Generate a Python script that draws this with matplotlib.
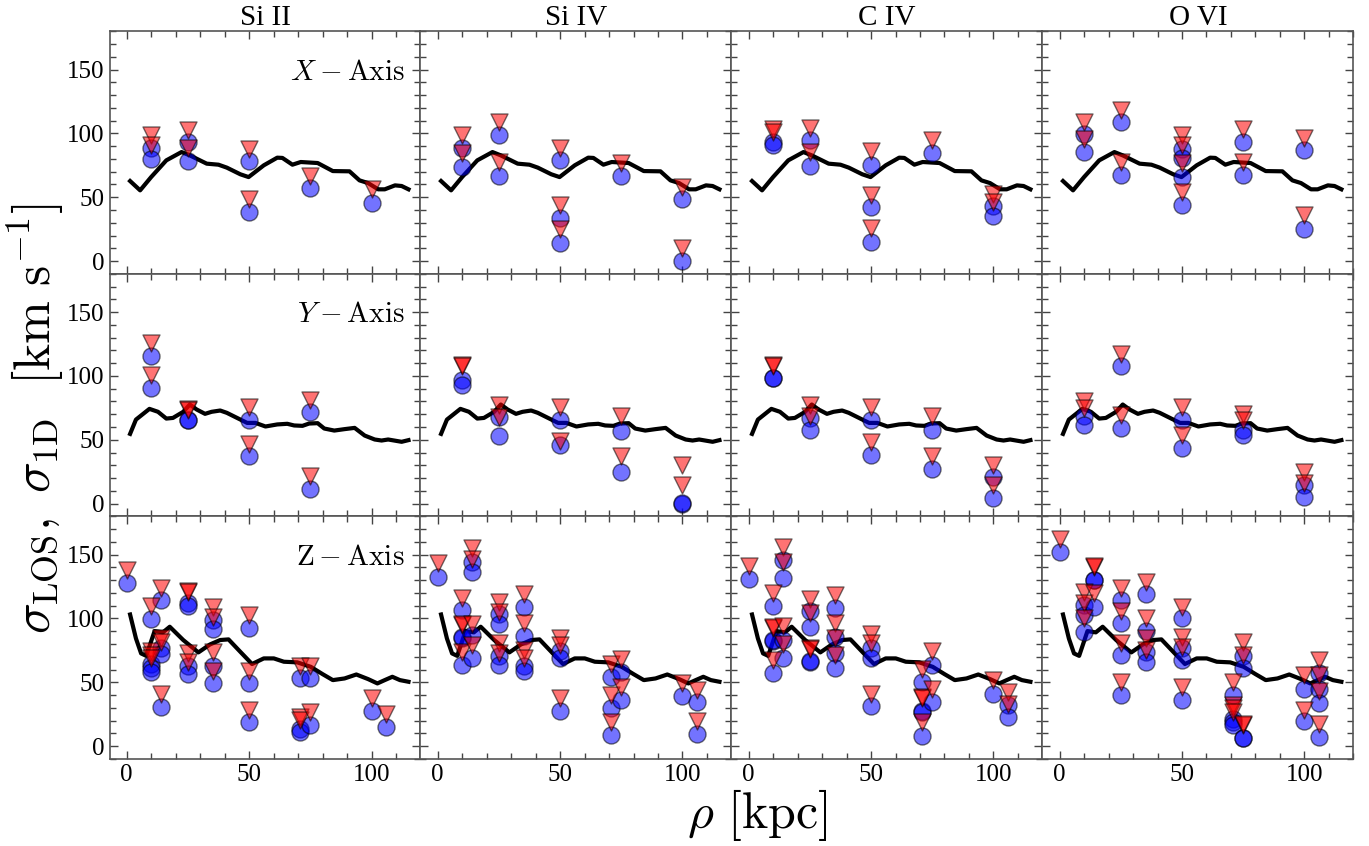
import matplotlib
matplotlib.use('Agg')
import matplotlib.pyplot as plt
from matplotlib.ticker import MultipleLocator

plt.rcParams['font.family'] = 'serif'
plt.rcParams['font.serif'] = ['Liberation Serif', 'DejaVu Serif']
plt.rcParams['mathtext.fontset'] = 'cm'

# ions (columns) and sight-line axes (rows)
ions = ['Si II', 'Si IV', 'C IV', 'O VI']
axis_labels = [r'$X - \mathrm{Axis}$', r'$Y - \mathrm{Axis}$', r'$\mathrm{Z - Axis}$']

# 1D velocity dispersion profile (black line), one per projection axis
line_x_rho = [1.4, 5.5, 10.0, 16.2, 22.4, 25.8, 32.7, 37.5, 40.9, 46.4, 49.8, 56.0, 61.5, 63.6,
              67.7, 71.1, 78.0, 84.2, 91.0, 95.1, 98.6, 102.7, 105.4, 109.6, 112.3, 115.1]
line_x_sig = [62.7, 55.4, 65.8, 78.9, 85.4, 82.8, 76.3, 75.5, 73.2, 68.0, 65.8, 75.0, 81.0, 80.8,
              75.5, 77.6, 76.8, 70.5, 70.3, 63.2, 61.1, 56.2, 56.2, 59.3, 58.8, 56.2]

line_y_rho = [1.4, 3.8, 9.3, 12.8, 16.2, 18.9, 23.1, 25.8, 28.6, 32.0, 34.7, 38.2, 40.9, 45.1,
              49.2, 52.6, 56.7, 61.5, 65.6, 68.4, 71.8, 74.5, 78.0, 80.7, 84.8, 88.9, 93.1,
              97.2, 101.3, 104.1, 106.8, 112.3, 115.1]
line_y_sig = [54.6, 65.8, 74.2, 71.9, 66.6, 67.1, 71.9, 77.6, 73.7, 70.3, 71.9, 72.9, 71.1, 67.1,
              63.2, 63.2, 60.4, 62.0, 62.5, 61.2, 60.9, 62.7, 63.0, 58.8, 57.2, 58.3, 59.3,
              53.3, 50.2, 49.4, 50.2, 48.4, 49.7]

line_z_rho = [1.4, 3.8, 5.9, 8.0, 11.4, 14.8, 17.6, 23.1, 29.3, 34.0, 38.2, 41.6, 46.4, 51.2,
              56.0, 60.1, 64.2, 69.7, 75.2, 80.0, 84.2, 89.0, 93.8, 98.6, 102.4, 105.4,
              108.5, 111.6, 115.1]
line_z_sig = [103.1, 84.3, 72.6, 70.7, 90.1, 89.1, 93.5, 83.1, 73.4, 79.6, 83.1, 83.6, 73.9, 64.3,
              68.7, 68.7, 66.1, 65.6, 62.1, 56.4, 51.7, 53.0, 56.1, 52.5, 49.1, 51.7,
              54.3, 51.7, 50.4]

# sightline measurements: rho [kpc], sigma_LOS (circles), sigma_1D (triangles)
siII_x_rho = [10, 10, 25, 25, 50, 50, 75, 100]
siII_x_los = [88.6, 80.2, 93.3, 78.4, 78.1, 38.4, 57.2, 45.7]
siII_x_1d = [98.5, 90.7, 102.9, 88.5, 87.5, 48.9, 66.6, 56.2]

siIV_x_rho = [10, 10, 25, 25, 50, 50, 50, 75, 100, 100]
siIV_x_los = [88.8, 73.7, 98.5, 66.6, 78.9, 34.0, 14.4, 66.6, 48.9, 0.0]
siIV_x_1d = [98.5, 85.0, 108.9, 77.6, 88.6, 44.2, 25.3, 77.1, 58.0, 10.2]

cIV_x_rho = [10, 10, 25, 25, 50, 50, 50, 75, 100, 100]
cIV_x_los = [93.3, 91.2, 95.1, 74.5, 75.5, 42.1, 14.9, 84.4, 43.4, 35.0]
cIV_x_1d = [103.7, 101.1, 104.2, 85.4, 86.0, 52.0, 25.9, 94.6, 52.8, 46.2]

oVI_x_rho = [10, 10, 25, 25, 50, 50, 50, 50, 75, 75, 100, 100]
oVI_x_los = [99.3, 85.4, 108.9, 67.7, 88.0, 81.0, 66.0, 44.2, 93.3, 67.7, 86.7, 25.4]
oVI_x_1d = [108.9, 95.9, 118.1, 77.6, 98.5, 90.7, 77.0, 54.1, 103.2, 77.6, 96.4, 35.8]

siII_y_rho = [10, 10, 25, 25, 50, 50, 75, 75]
siII_y_los = [115.5, 90.7, 65.1, 65.5, 65.8, 37.1, 71.6, 11.5]
siII_y_1d = [125.7, 100.6, 74.0, 73.0, 75.5, 47.0, 81.5, 21.4]

siIV_y_rho = [10, 10, 25, 25, 50, 50, 75, 75, 100, 100]
siIV_y_los = [97.2, 93.0, 67.7, 52.8, 65.1, 45.7, 57.2, 24.6, 0.0, 0.5]
siIV_y_1d = [108.4, 108.0, 77.6, 68.0, 75.5, 49.0, 68.5, 37.1, 30.6, 14.4]

cIV_y_rho = [10, 10, 25, 25, 50, 50, 75, 75, 100, 100]
cIV_y_los = [98.5, 98.0, 67.1, 57.5, 65.1, 38.4, 58.0, 27.4, 20.6, 4.5]
cIV_y_1d = [108.4, 108.0, 77.6, 68.5, 75.5, 48.3, 68.5, 37.1, 30.6, 14.9]

oVI_y_rho = [10, 10, 25, 25, 50, 50, 75, 75, 100, 100]
oVI_y_los = [68.5, 61.9, 107.6, 59.3, 65.1, 43.6, 58.0, 54.1, 14.4, 5.0]
oVI_y_1d = [80.7, 75.0, 117.3, 69.2, 75.5, 54.1, 69.8, 65.8, 24.8, 16.2]

siII_z_rho = [0, 10, 10, 10, 10, 14.1, 14.1, 14.1, 14.1, 25, 25, 25, 25, 35.4, 35.4, 35.4, 35.4,
              50, 50, 50, 70.7, 70.7, 70.7, 75, 75, 100, 106.1]
siII_z_los = [127.4, 99.5, 64.7, 60.8, 58.2, 114.4, 76.5, 71.8, 30.8, 111.8, 109.9, 62.9, 56.1,
              98.7, 91.6, 62.9, 49.1, 92.7, 49.1, 18.5, 53.5, 13.3, 10.7, 53.0, 16.4, 27.4, 15.1]
siII_z_1d = [137.9, 109.7, 74.4, 71.3, 68.7, 124.0, 84.3, 81.7, 41.2, 121.4, 120.4, 72.6, 66.0,
             109.1, 101.3, 73.9, 58.7, 102.6, 58.7, 28.2, 62.9, 22.9, 20.3, 62.9, 26.9, 37.8, 24.8]

siIV_z_rho = [0, 10, 10, 10, 10, 14.1, 14.1, 14.1, 14.1, 25, 25, 25, 25, 35.4, 35.4, 35.4, 35.4,
              50, 50, 50, 70.7, 70.7, 70.7, 75, 75, 100, 106.1, 106.1]
siIV_z_los = [132.7, 106.5, 84.9, 85.5, 63.4, 144.4, 136.6, 86.9, 69.2, 103.1, 95.3, 70.7, 63.4,
              108.6, 86.4, 62.9, 58.7, 74.4, 69.2, 27.4, 54.3, 29.5, 8.6, 58.2, 36.0, 39.4, 34.2, 9.1]
siIV_z_1d = [143.1, 116.2, 94.8, 95.5, 73.9, 154.9, 146.5, 95.3, 79.1, 113.1, 104.7, 80.4, 72.6,
             118.8, 96.1, 75.2, 68.7, 84.9, 79.1, 37.3, 64.0, 39.9, 19.0, 68.1, 46.5, 49.1, 43.8, 19.5]

cIV_z_rho = [0, 10, 10, 10, 10, 14.1, 14.1, 14.1, 14.1, 25, 25, 25, 25, 35.4, 35.4, 35.4, 35.4,
             50, 50, 50, 70.7, 70.7, 70.7, 70.7, 75, 75, 100, 106.1, 106.1]
cIV_z_los = [130.8, 109.7, 82.2, 82.8, 57.2, 145.7, 131.9, 83.0, 69.2, 105.8, 93.5, 66.0, 66.5,
             108.4, 85.6, 73.0, 60.8, 76.5, 69.2, 31.6, 49.9, 27.4, 27.0, 8.1, 63.9, 34.7, 41.2,
             32.1, 22.9]
cIV_z_1d = [141.3, 119.6, 92.2, 93.0, 67.4, 156.2, 143.9, 94.3, 79.6, 115.2, 103.9, 76.5, 76.0,
            118.3, 96.1, 84.3, 71.3, 87.5, 80.4, 41.2, 60.3, 38.6, 38.0, 18.5, 74.4, 45.1, 51.7,
            42.5, 32.6]

oVI_z_rho = [0, 10, 10, 10, 14.1, 14.1, 14.1, 25, 25, 25, 25, 35.4, 35.4, 35.4, 35.4, 50, 50, 50, 50,
             70.7, 70.7, 70.7, 70.7, 75, 75, 75, 75, 100, 100, 106.1, 106.1, 106.1, 106.1]
oVI_z_los = [152.3, 110.5, 102.6, 89.6, 130.0, 130.5, 109.1, 114.4, 96.1, 71.3, 40.4, 118.8, 90.1,
             73.9, 65.5, 100.0, 76.5, 67.4, 36.0, 40.4, 21.6, 19.0, 16.4, 70.7, 60.8, 6.0, 6.5,
             45.1, 19.5, 56.9, 45.1, 33.4, 7.3]
oVI_z_1d = [162.2, 120.4, 112.5, 100.5, 140.5, 141.0, 119.6, 124.0, 105.8, 80.4, 50.4, 128.2, 100.0,
            84.3, 75.2, 109.1, 85.6, 77.8, 46.5, 50.4, 32.1, 29.5, 26.9, 81.2, 71.3, 16.4, 17.0,
            55.6, 28.2, 67.4, 55.6, 43.1, 17.7]

lines = [(line_x_rho, line_x_sig), (line_y_rho, line_y_sig), (line_z_rho, line_z_sig)]
panels = [
    [(siII_x_rho, siII_x_los, siII_x_1d), (siIV_x_rho, siIV_x_los, siIV_x_1d),
     (cIV_x_rho, cIV_x_los, cIV_x_1d), (oVI_x_rho, oVI_x_los, oVI_x_1d)],
    [(siII_y_rho, siII_y_los, siII_y_1d), (siIV_y_rho, siIV_y_los, siIV_y_1d),
     (cIV_y_rho, cIV_y_los, cIV_y_1d), (oVI_y_rho, oVI_y_los, oVI_y_1d)],
    [(siII_z_rho, siII_z_los, siII_z_1d), (siIV_z_rho, siIV_z_los, siIV_z_1d),
     (cIV_z_rho, cIV_z_los, cIV_z_1d), (oVI_z_rho, oVI_z_los, oVI_z_1d)],
]

fig, axes = plt.subplots(3, 4, figsize=(13.69, 8.46), dpi=100, sharex=True, sharey=True)
fig.subplots_adjust(left=0.08, right=0.9886, top=0.963, bottom=0.103, wspace=0, hspace=0)

for r in range(3):
    for c in range(4):
        ax = axes[r, c]
        rho, los, oned = panels[r][c]
        ax.plot(lines[r][0], lines[r][1], color='k', lw=3, zorder=3)
        ax.scatter(rho, los, s=150, marker='o', color='blue', alpha=0.55,
                   edgecolors='k', linewidths=1, zorder=4)
        ax.scatter(rho, oned, s=150, marker='v', color='red', alpha=0.55,
                   edgecolors='k', linewidths=1, zorder=5)
        ax.set_xlim(-7, 120)
        ax.set_ylim(-10, 180)
        ax.xaxis.set_major_locator(MultipleLocator(50))
        ax.xaxis.set_minor_locator(MultipleLocator(10))
        ax.yaxis.set_major_locator(MultipleLocator(50))
        ax.yaxis.set_minor_locator(MultipleLocator(10))
        ax.tick_params(which='both', direction='in', top=True, right=True, labelsize=18,
                       color='#444444')
        ax.tick_params(which='major', length=6, width=1)
        ax.tick_params(which='minor', length=4, width=1)
        for sp in ax.spines.values():
            sp.set_color('#555555')
            sp.set_linewidth(1.2)
        if r == 0:
            ax.set_title(ions[c], fontsize=21, pad=4)
        if c == 0:
            ax.text(0.95, 0.83, axis_labels[r], transform=ax.transAxes, ha='right',
                    va='center', fontsize=21)

fig.text(0.026, 0.505, r'$\sigma_{\rm LOS},\ \sigma_{\rm 1D}\ \ [{\rm km\ s^{-1}}]$',
         rotation=90, ha='center', va='center', fontsize=37)
fig.text(0.553, 0.037, r'$\rho\ [{\rm kpc}]$', ha='center', va='center', fontsize=36)

plt.savefig('out.png', dpi=100)
